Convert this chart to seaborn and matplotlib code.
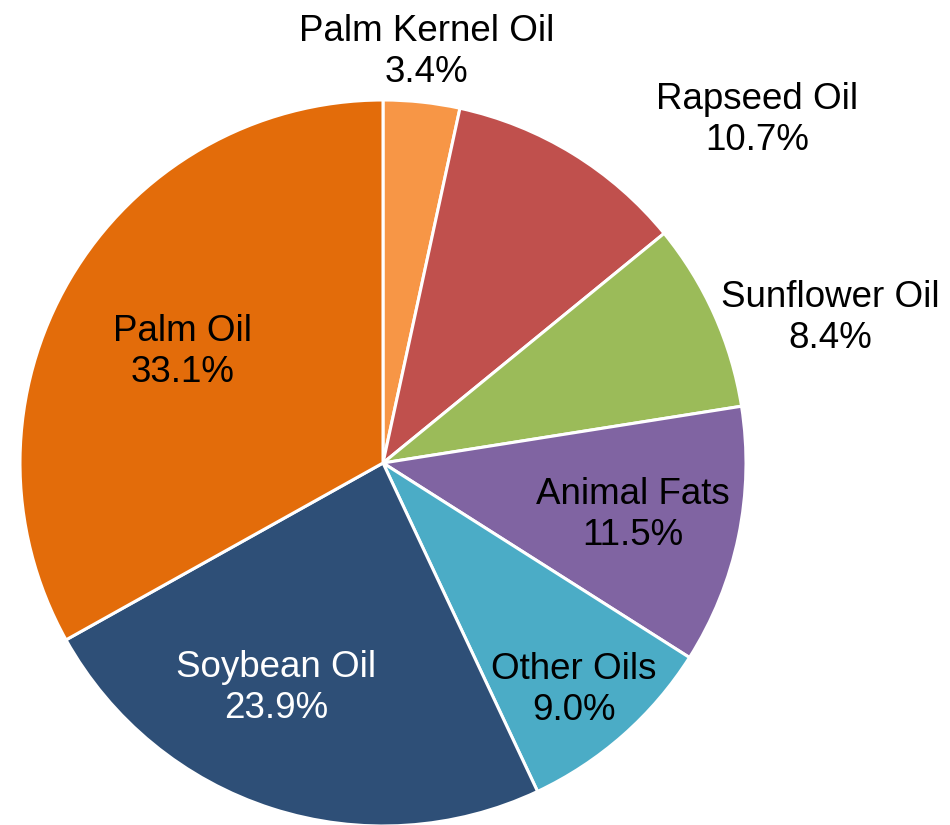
import matplotlib
matplotlib.use("Agg")
import matplotlib.pyplot as plt
import seaborn as sns

sns.set_theme(style="white")
plt.rcParams['font.family'] = ['Liberation Sans', 'DejaVu Sans']

categories = ["Palm Kernel Oil", "Rapseed Oil", "Sunflower Oil", "Animal Fats",
              "Other Oils", "Soybean Oil", "Palm Oil"]
shares = [3.4, 10.7, 8.4, 11.5, 9.0, 23.9, 33.1]
colors = ["#F79646", "#C0504D", "#9BBB59", "#8064A2", "#4BACC6", "#2E4F77", "#E36C0A"]
text_colors = ["black", "black", "black", "black", "black", "white", "black"]
# label anchor positions (layout, in units of pie radius)
label_xy = [(0.121, 1.132), (1.030, 0.945), (1.231, 0.399), (0.689, -0.143),
            (0.526, -0.625), (-0.295, -0.620), (-0.551, 0.306)]

fig = plt.figure(figsize=(9.5, 8.25), dpi=100)
ax = fig.add_axes([0, 0, 1, 1])
R = 363.0
cx, cy = 383.0, 463.0
ax.pie(shares, colors=colors, startangle=90, counterclock=False, radius=1.0,
       wedgeprops=dict(edgecolor="white", linewidth=2.2))
for cat, v, (x, y), tc in zip(categories, shares, label_xy, text_colors):
    ax.text(x, y, f"{cat}\n{v:.1f}%", ha="center", va="center", fontsize=26.5,
            color=tc, linespacing=1.22)
ax.set_xlim(-cx / R, (950 - cx) / R)
ax.set_ylim(-(825 - cy) / R, cy / R)
ax.set_aspect("equal")
ax.axis("off")
fig.savefig("out.png", dpi=100, facecolor="white")
